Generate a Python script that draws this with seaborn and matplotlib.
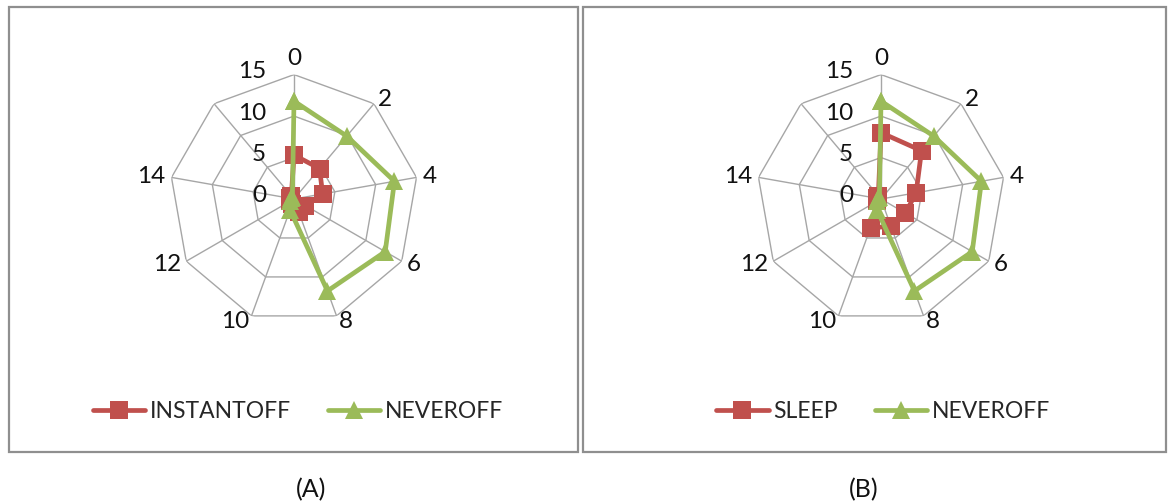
import numpy as np
import pandas as pd
import matplotlib
matplotlib.use('Agg')
import matplotlib.pyplot as plt
from matplotlib.lines import Line2D
from matplotlib.patches import Rectangle
import seaborn as sns

# hours on the spokes (the 9th spoke has no label in the original)
categories = ['0', '2', '4', '6', '8', '10', '12', '14', '']
neveroff = [11.8, 9.9, 12.3, 12.7, 11.8, 1.4, 0.5, 0.4, 0.3]
instantoff = [5.3, 4.8, 3.5, 1.6, 1.7, 0.6, 0.5, 0.5, 0.5]
sleep = [8.0, 7.6, 4.3, 3.4, 3.5, 3.7, 0.5, 0.5, 0.5]
radial_ticks = [0, 5, 10, 15]
panel_names = ['(A)', '(B)']

RED = '#C0504D'
GREEN = '#9BBB59'
GRID = '#a6a6a6'
FRAME = '#8f8f8f'
TEXT = '#111111'

sns.set_theme(style='white')
plt.rcParams['font.family'] = ['Lato', 'DejaVu Sans']

W, H = 1168, 504
fig = plt.figure(figsize=(W / 100, H / 100), dpi=100)

theta = np.linspace(0, 2 * np.pi, len(categories), endpoint=False)
theta_closed = np.append(theta, 2 * np.pi)


def radar(cx, cy, other_name, other_vals, legend_cx):
    R = 124.4
    ax = fig.add_axes([(cx - R) / W, (H - cy - R) / H, 2 * R / W, 2 * R / H], projection='polar')
    ax.set_theta_zero_location('N')
    ax.set_theta_direction(-1)
    ax.set_ylim(0, 15)
    ax.grid(False)
    ax.spines['polar'].set_visible(False)
    ax.set_facecolor('none')

    # polygon grid like excel
    for r in radial_ticks[1:]:
        ax.plot(theta_closed, [r] * len(theta_closed), color=GRID, lw=1, zorder=1)
    for t in theta:
        ax.plot([t, t], [0, 15], color=GRID, lw=1, zorder=1)

    df = pd.DataFrame({
        'theta': np.concatenate([theta_closed, theta_closed]),
        'value': other_vals + other_vals[:1] + neveroff + neveroff[:1],
        'series': [other_name] * len(theta_closed) + ['NEVEROFF'] * len(theta_closed),
    })
    sns.lineplot(data=df, x='theta', y='value', hue='series', style='series',
                 hue_order=[other_name, 'NEVEROFF'],
                 palette={other_name: RED, 'NEVEROFF': GREEN},
                 markers={other_name: 's', 'NEVEROFF': '^'}, dashes=False,
                 sort=False, estimator=None, legend=False, ax=ax,
                 lw=3.4, markersize=13, markeredgewidth=0, zorder=3)
    ax.set_ylim(0, 15)
    ax.set_xticks([])
    ax.set_yticks([])
    ax.set_xlabel('')
    ax.set_ylabel('')

    pad = 6
    for t, lab in zip(theta, categories):
        s, c = np.sin(t), np.cos(t)
        ha = 'left' if s > 0.2 else ('right' if s < -0.2 else 'center')
        va = 'bottom' if c > 0.9 else 'center'
        ax.annotate(lab, xy=(t, 15), xytext=(pad * s, pad * c), textcoords='offset pixels',
                    ha=ha, va=va, fontsize=17.5, color=TEXT, annotation_clip=False)
    for v in radial_ticks:
        ax.annotate(str(v), xy=(0, v), xytext=(-28, 3), textcoords='offset pixels',
                    ha='right', va='center', fontsize=17.5, color=TEXT, annotation_clip=False)

    handles = [
        Line2D([], [], color=RED, lw=3.4, marker='s', markersize=13, markeredgewidth=0),
        Line2D([], [], color=GREEN, lw=3.4, marker='^', markersize=13, markeredgewidth=0),
    ]
    fig.legend(handles, [other_name, 'NEVEROFF'], loc='center',
               bbox_to_anchor=(legend_cx / W, 1 - 412 / H), ncol=2, frameon=False,
               fontsize=16.5, handlelength=2.3, handletextpad=0.2, columnspacing=1.6)


radar(294, 199, 'INSTANTOFF', instantoff, 298)
radar(881, 199, 'SLEEP', sleep, 883)

# panel frames
for x0, x1 in [(9, 578), (583, 1166)]:
    fig.add_artist(Rectangle((x0 / W, 1 - 452 / H), (x1 - x0) / W, 445 / H,
                             transform=fig.transFigure, fill=False, ec=FRAME, lw=1.6))

for name, x in zip(panel_names, [311, 864]):
    fig.text(x / W, 1 - 490 / H, name, ha='center', va='center', fontsize=18, color=TEXT)

fig.savefig('out.png', dpi=100)
